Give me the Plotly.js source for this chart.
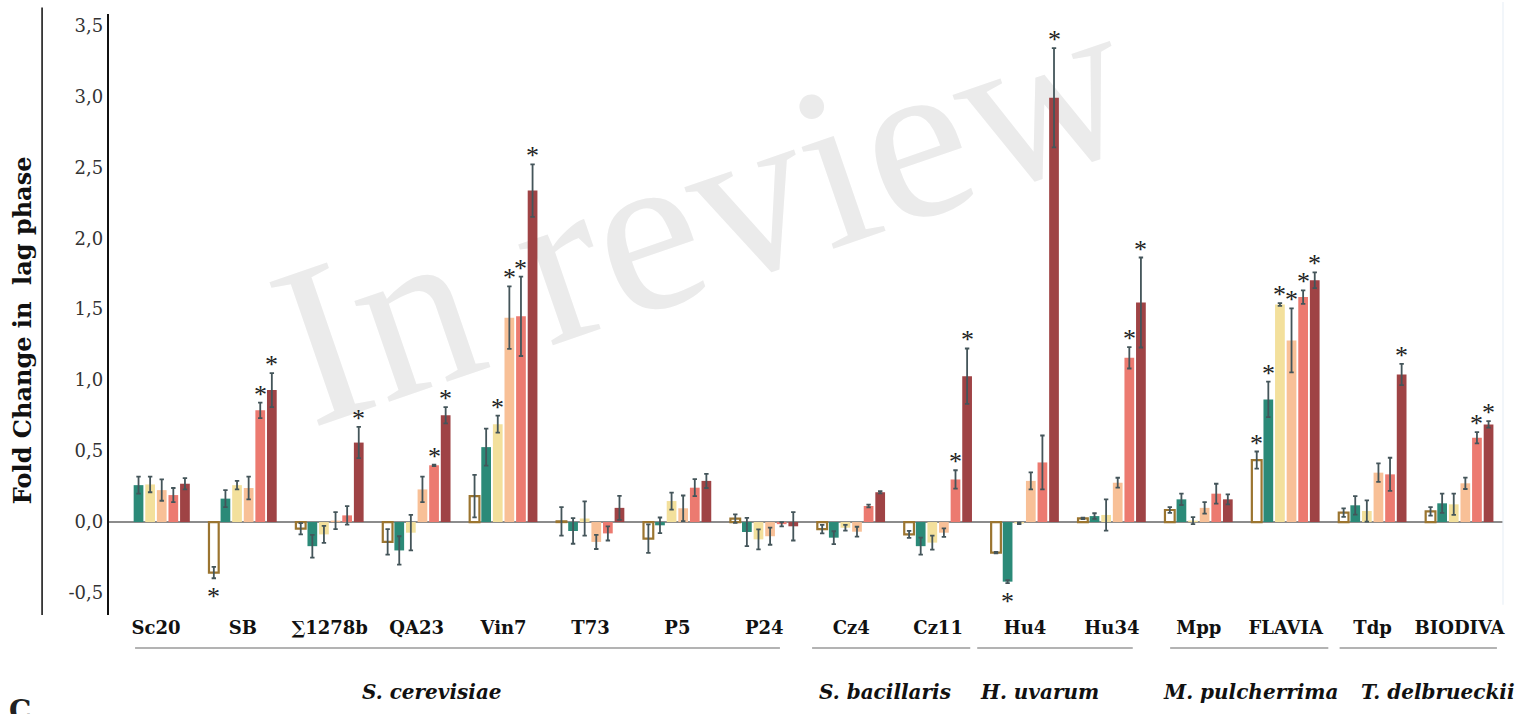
<!DOCTYPE html>
<html>
<head>
<meta charset="utf-8">
<script src="https://cdn.plot.ly/plotly-3.0.1.min.js"></script>
<style>html,body{margin:0;padding:0;background:#fff;}#chart{width:1534px;height:714px;}</style>
</head>
<body>
<div id="chart"></div>
<script>
// ---- Data ----
const strains = ["Sc20","SB","\u22111278b","QA23","Vin7","T73","P5","P24","Cz4","Cz11","Hu4","Hu34","Mpp","FLAVIA","Tdp","BIODIVA"];
const seriesNames = ["Condition 1","Condition 2","Condition 3","Condition 4","Condition 5","Condition 6"];

const vals1 = [null, -0.356, -0.047, -0.14, 0.183, 0.005, -0.117, 0.024, -0.05, -0.087, -0.216, 0.026, 0.085, 0.437, 0.066, 0.075];
const errs1 = [0, 0.04, 0.04, 0.09, 0.15, 0.1, 0.1, 0.03, 0.03, 0.025, 0.005, 0.005, 0.02, 0.06, 0.03, 0.03];
const vals2 = [0.26, 0.165, -0.17, -0.2, 0.528, -0.063, -0.023, -0.07, -0.11, -0.17, -0.42, 0.042, 0.16, 0.864, 0.118, 0.132];
const errs2 = [0.06, 0.06, 0.08, 0.1, 0.13, 0.09, 0.055, 0.1, 0.045, 0.06, 0.01, 0.02, 0.04, 0.125, 0.065, 0.068];
const vals3 = [0.265, 0.26, -0.087, -0.075, 0.69, 0.025, 0.148, -0.122, -0.04, -0.145, -0.01, 0.05, 0.01, 1.533, 0.078, 0.125];
const errs3 = [0.055, 0.03, 0.06, 0.125, 0.06, 0.12, 0.06, 0.07, 0.02, 0.05, 0.005, 0.11, 0.025, 0.01, 0.075, 0.075];
const vals4 = [0.225, 0.24, 0.01, 0.23, 1.44, -0.14, 0.097, -0.1, -0.068, -0.075, 0.29, 0.277, 0.1, 1.28, 0.348, 0.273];
const errs4 = [0.075, 0.08, 0.06, 0.09, 0.22, 0.05, 0.09, 0.06, 0.035, 0.03, 0.06, 0.035, 0.04, 0.225, 0.065, 0.04];
const vals5 = [0.19, 0.787, 0.047, 0.4, 1.45, -0.08, 0.242, -0.015, 0.113, 0.3, 0.42, 1.157, 0.2, 1.585, 0.336, 0.594];
const errs5 = [0.05, 0.055, 0.065, 0.005, 0.28, 0.05, 0.06, 0.015, 0.01, 0.065, 0.19, 0.075, 0.07, 0.047, 0.117, 0.04];
const vals6 = [0.27, 0.93, 0.56, 0.753, 2.336, 0.1, 0.29, -0.03, 0.21, 1.028, 2.99, 1.547, 0.16, 1.704, 1.04, 0.688];
const errs6 = [0.04, 0.12, 0.11, 0.057, 0.185, 0.085, 0.05, 0.1, 0.008, 0.195, 0.35, 0.317, 0.035, 0.056, 0.075, 0.023];

// significance (asterisk) flags
const sig1 = [0,1,0,0,0,0,0,0,0,0,0,0,0,1,0,0];
const sig2 = [0,0,0,0,0,0,0,0,0,0,1,0,0,1,0,0];
const sig3 = [0,0,0,0,1,0,0,0,0,0,0,0,0,1,0,0];
const sig4 = [0,0,0,0,1,0,0,0,0,0,0,0,0,1,0,0];
const sig5 = [0,1,0,1,1,0,0,0,0,1,0,1,0,1,0,1];
const sig6 = [0,1,1,1,1,0,0,0,0,1,1,1,0,1,1,1];

const speciesNames = ["S. cerevisiae","S. bacillaris","H. uvarum","M. pulcherrima","T. delbrueckii"];
const speciesFirst = [0, 8, 10, 12, 14];
const speciesLast  = [7, 9, 11, 13, 15];

const yTickVals = [-0.5, 0, 0.5, 1, 1.5, 2, 2.5, 3, 3.5];
const yTickText = ["-0,5","0,0","0,5","1,0","1,5","2,0","2,5","3,0","3,5"];

// ---- Styles ----
const fills = ["#ffffff","#2b8a78","#f3e09c","#f8c097","#ec7a70","#9f4345"];
const lines = ["#9b7530","#2b8a78","#f3e09c","#f8c097","#ec7a70","#9f4345"];
const lineW = [2.2,0,0,0,0,0];
const FONT = "DejaVu Serif";
const step = 0.1335, barW = 0.112;

const allVals = [vals1,vals2,vals3,vals4,vals5,vals6];
const allErrs = [errs1,errs2,errs3,errs4,errs5,errs6];
const allSig = [sig1,sig2,sig3,sig4,sig5,sig6];

const traces = [];
allVals.forEach((v, j) => {
  const xs = strains.map((s, i) => i + (j - 2.5) * step);
  traces.push({
    type: "bar", name: seriesNames[j], x: xs, y: v, width: barW,
    marker: {color: fills[j], line: {color: lines[j], width: lineW[j]}},
    error_y: {type: "data", array: allErrs[j], visible: true, color: "#44555a", thickness: 1.8, width: 2.2},
    showlegend: false, hoverinfo: "y"
  });
});

const shapes = [];
const annotations = [];
// asterisks for significant bars
allVals.forEach((v, j) => {
  v.forEach((val, i) => {
    if (allSig[j][i] && val !== null) {
      const pos = val >= 0;
      annotations.push({xref: "x", yref: "y", x: i + (j - 2.5) * step,
        y: pos ? val + allErrs[j][i] : val - allErrs[j][i],
        text: "*", showarrow: false, xanchor: "center",
        yanchor: pos ? "bottom" : "top", yshift: pos ? -8 : -2,
        font: {family: "Liberation Serif", size: 26, color: "#222"}});
    }
  });
});
// group underline lines and species labels
const lineStartOff = [-0.24, -0.45, -0.55, -0.33, -0.38];
const lineEndOff = [0.18, 0.37, 0.24, 0.49, 0.43];
const labelX = [3.18, 8.39, 10.17, 12.59, 14.75];
speciesNames.forEach((sp, k) => {
  shapes.push({type: "line", xref: "x", yref: "paper",
    x0: speciesFirst[k] + lineStartOff[k], x1: speciesLast[k] + lineEndOff[k],
    y0: -0.0549, y1: -0.0549, line: {color: "#9a9a9a", width: 1.6}});
  annotations.push({xref: "x", yref: "paper", x: labelX[k], y: -0.128, text: "<b><i>" + sp + "</i></b>",
    showarrow: false, xanchor: "center", yanchor: "middle",
    font: {family: FONT, size: 20, color: "#111"}});
});
// left vertical rule
shapes.push({type: "line", xref: "paper", yref: "paper", x0: -0.048, x1: -0.048, y0: 0, y1: 1.011,
  line: {color: "#333", width: 1.8}});
// faint right rule
shapes.push({type: "line", xref: "paper", yref: "paper", x0: 1, x1: 1, y0: 0.017, y1: 1.02,
  line: {color: "#e9f0f7", width: 1.2}});
// watermark
shapes.push({type: "rect", xref: "paper", yref: "paper", x0: 0.0, x1: 0.84, y0: 0.44, y1: 0.984,
  layer: "below", line: {width: 0}, fillcolor: "rgba(0,0,0,0)",
  label: {text: "In review", textangle: -19, textposition: "middle center",
    font: {family: "Liberation Serif", size: 232, color: "#ebebeb"}}});

annotations.push({xref: "paper", yref: "paper", x: -0.0624, y: 0.474, text: "<b>Fold Change in\u00a0 lag phase</b>",
  textangle: -90, showarrow: false, xanchor: "center", yanchor: "middle",
  font: {family: FONT, size: 24, color: "#111"}});
annotations.push({xref: "paper", yref: "paper", x: -0.064, y: -0.128, text: "<b>C</b>",
  showarrow: false, xanchor: "center", yanchor: "top",
  font: {family: FONT, size: 28, color: "#222"}});

const layout = {
  width: 1534, height: 714,
  margin: {l: 109, r: 31, t: 14, b: 99},
  paper_bgcolor: "#fff", plot_bgcolor: "rgba(0,0,0,0)",
  barmode: "overlay",
  showlegend: false,
  xaxis: {range: [-0.54, 15.5], tickvals: strains.map((s, i) => i), ticktext: strains,
    showgrid: false, zeroline: false, showline: false, ticks: "",
    tickfont: {family: FONT, size: 18, color: "#111", weight: "bold"}},
  yaxis: {range: [-0.655, 3.58], tickvals: yTickVals, ticktext: yTickText,
    showgrid: false, zeroline: true, zerolinecolor: "#8c8c8c", zerolinewidth: 2,
    showline: true, linecolor: "#111", linewidth: 2.2, ticks: "",
    tickfont: {family: FONT, size: 18, color: "#333"}},
  shapes: shapes,
  annotations: annotations
};

Plotly.newPlot("chart", traces, layout, {displayModeBar: false, staticPlot: true});
</script>
</body>
</html>
